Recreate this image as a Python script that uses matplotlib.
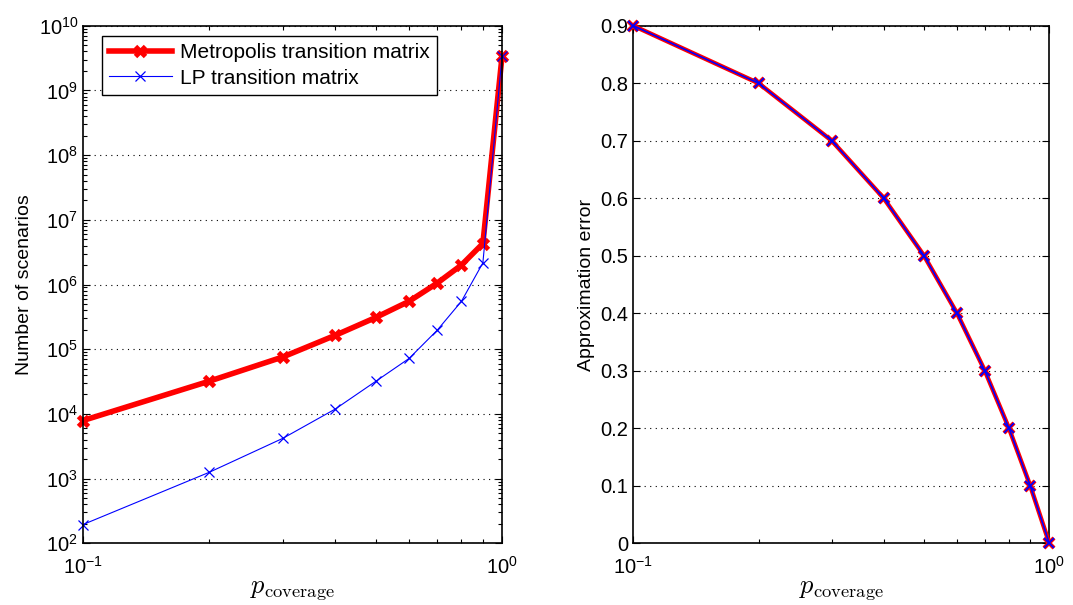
import numpy as np
import matplotlib.pyplot as plt
from matplotlib.ticker import LogLocator, NullFormatter

# -----------------------
# Data
# -----------------------
p_coverage = [0.1, 0.2, 0.3, 0.4, 0.5, 0.6, 0.7, 0.8, 0.9, 1.0]

n_scen_metropolis = [7.9e3, 3.2e4, 7.6e4, 1.64e5, 3.1e5, 5.5e5, 1.05e6, 2.0e6, 4.3e6, 3.4e9]
n_scen_lp = [1.95e2, 1.25e3, 4.2e3, 1.19e4, 3.2e4, 7.2e4, 1.96e5, 5.5e5, 2.16e6, 3.4e9]

approx_err_metropolis = [0.9, 0.8, 0.7, 0.6, 0.5, 0.4, 0.3, 0.2, 0.1, 0.0]
approx_err_lp = [0.9, 0.8, 0.7, 0.6, 0.5, 0.4, 0.3, 0.2, 0.1, 0.0]

plt.rcParams["font.family"] = ["Liberation Sans", "DejaVu Sans"]
plt.rcParams["mathtext.fontset"] = "cm"
plt.rcParams["font.size"] = 14.5

fig = plt.figure(figsize=(10.73, 6.05), dpi=100)
ax1 = fig.add_axes([0.0774, 0.102, 0.3905, 0.8555])
ax2 = fig.add_axes([0.5902, 0.102, 0.3877, 0.8555])


def style_axes(ax):
    ax.set_xscale("log")
    ax.set_xlim(0.1, 1.0)
    ax.xaxis.set_minor_formatter(NullFormatter())
    ax.tick_params(which="both", direction="in", top=True, right=True,
                   width=0.8, labelsize=14.5)
    ax.tick_params(which="major", length=5)
    ax.tick_params(which="minor", length=3)
    ax.tick_params(axis="x", which="major", pad=9)
    ax.yaxis.grid(True, linestyle=(0, (1, 4)), color="black", linewidth=0.8)
    ax.xaxis.grid(False, which="both")
    for s in ax.spines.values():
        s.set_linewidth(1.2)
    ax.set_xlabel(r"$p_{\mathrm{coverage}}$", fontsize=19, labelpad=0)


# -----------------------
# Left: number of scenarios
# -----------------------
ax1.plot(p_coverage, n_scen_metropolis, color="red", lw=4, marker="x",
         ms=7, mew=3.5, label="Metropolis transition matrix")
ax1.plot(p_coverage, n_scen_lp, color="blue", lw=0.8, marker="x",
         ms=7, mew=0.9, label="LP transition matrix")
ax1.set_yscale("log")
ax1.set_ylim(1e2, 1e10)
style_axes(ax1)
ax1.yaxis.set_major_locator(LogLocator(base=10, numticks=20))
ax1.yaxis.set_minor_locator(LogLocator(base=10, subs=np.arange(2, 10), numticks=20))
ax1.yaxis.set_minor_formatter(NullFormatter())
ax1.set_ylabel("Number of scenarios", fontsize=14)

leg = ax1.legend(loc="upper left", bbox_to_anchor=(0.045, 0.98), borderaxespad=0,
                 fancybox=False, framealpha=1, edgecolor="black", fontsize=15,
                 handlelength=3.0, handletextpad=0.4, labelspacing=0.3,
                 borderpad=0.35)
leg.get_frame().set_linewidth(1.0)

# -----------------------
# Right: approximation error
# -----------------------
ax2.plot(p_coverage, approx_err_metropolis, color="red", lw=3.2, marker="x",
         ms=7, mew=3, zorder=3)
ax2.plot(p_coverage, approx_err_lp, color="blue", lw=1.2, marker="x",
         ms=7, mew=1.3, zorder=4)
ax2.set_ylim(0, 0.9)
ax2.set_yticks(np.arange(0, 0.91, 0.1))
ax2.set_yticklabels(["0", "0.1", "0.2", "0.3", "0.4", "0.5", "0.6", "0.7", "0.8", "0.9"])
style_axes(ax2)
ax2.set_ylabel("Approximation error", fontsize=14)

for ax in (ax1, ax2):
    for line in ax.get_lines():
        line.set_clip_on(False)

fig.savefig("out.png", dpi=100)
